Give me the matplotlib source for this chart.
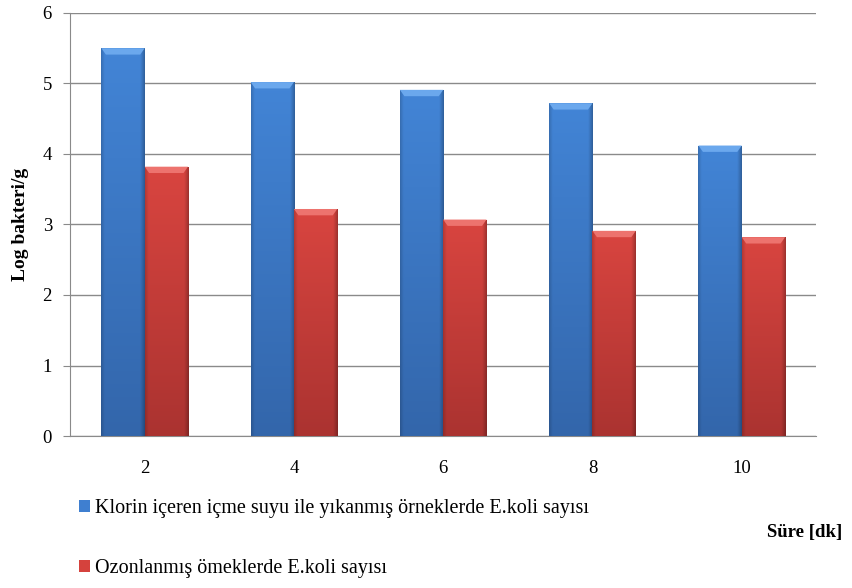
import matplotlib.pyplot as plt
import numpy as np
from matplotlib.patches import Polygon

# data
times = ['2', '4', '6', '8', '10']
klorin = [5.5, 5.02, 4.91, 4.72, 4.12]
ozon = [3.82, 3.22, 3.07, 2.91, 2.82]
labels = ['Klorin içeren içme suyu ile yıkanmış örneklerde E.koli sayısı',
          'Ozonlanmış ömeklerde E.koli sayısı']

plt.rcParams['font.family'] = ['Liberation Serif', 'DejaVu Serif']

fig = plt.figure(figsize=(8.52, 5.88), dpi=100)
ax = fig.add_axes([0.0822, 0.2585, 0.876, 0.7194])

x = np.arange(len(times))
w = 0.29


def shaded(c_top, c_bot, h=120, wd=40):
    # vertical fade plus darker side edges, a bit like the Excel bevel style
    t = np.linspace(0, 1, h)[:, None, None]
    img = np.array(c_top)[None, None, :] * (1 - t) + np.array(c_bot)[None, None, :] * t
    img = np.repeat(img, wd, axis=1)
    u = np.linspace(0, 1, wd)
    edge = 1 - 0.15 * np.clip(1 - u / 0.08, 0, 1) - 0.25 * np.clip((u - 0.9) / 0.1, 0, 1)
    return np.clip(img * edge[None, :, None], 0, 1)


blue_img = shaded((0.26, 0.52, 0.84), (0.20, 0.40, 0.67))
red_img = shaded((0.85, 0.27, 0.25), (0.67, 0.20, 0.19))
blue_light = (0.42, 0.66, 0.93)
red_light = (0.93, 0.45, 0.43)

for vals, off, img, light, col, lab in [(klorin, -w / 2, blue_img, blue_light, '#3F7FD0', labels[0]),
                                      (ozon, w / 2, red_img, red_light, '#D5423D', labels[1])]:
    bars = ax.bar(x + off, vals, w, color=col, edgecolor='none', label=lab, zorder=2)
    for b in bars:
        x0, y0 = b.get_x(), b.get_y()
        bw, bh = b.get_width(), b.get_height()
        im = ax.imshow(img, extent=(x0, x0 + bw, y0, y0 + bh), aspect='auto', zorder=3)
        im.set_clip_path(b)
        bev = Polygon([(x0, y0 + bh), (x0 + bw, y0 + bh),
                       (x0 + bw - 0.03, y0 + bh - 0.09), (x0 + 0.03, y0 + bh - 0.09)],
                      closed=True, facecolor=light, edgecolor='none', zorder=4)
        ax.add_patch(bev)

ax.set_xlim(-0.5, len(times) - 0.5)
ax.set_ylim(0, 6)
ax.set_yticks(range(0, 7))
ax.set_xticks(x)
ax.set_xticklabels(times)
ax.grid(axis='y', color='#8a8a8a', lw=1, zorder=0)
ax.set_axisbelow(True)
for s in ['top', 'right']:
    ax.spines[s].set_visible(False)
for s in ['left', 'bottom']:
    ax.spines[s].set_color('#8a8a8a')
ax.tick_params(axis='y', length=5, color='#8a8a8a', labelsize=13.5, pad=8)
ax.tick_params(axis='x', length=0, labelsize=13.5, pad=17)

ax.set_ylabel('Log bakteri/g', fontsize=14, fontweight='bold', labelpad=10)

fig.text(0.988, 0.094, 'Süre [dk]', ha='right', va='center', fontsize=13.5, fontweight='bold')

leg = fig.legend(loc='upper left', bbox_to_anchor=(0.093, 0.151), frameon=False,
                 fontsize=14.5, handlelength=0.55, handleheight=0.55, handletextpad=0.25,
                 labelspacing=2.05, borderaxespad=0, borderpad=0)

fig.savefig('out.png', dpi=100)
